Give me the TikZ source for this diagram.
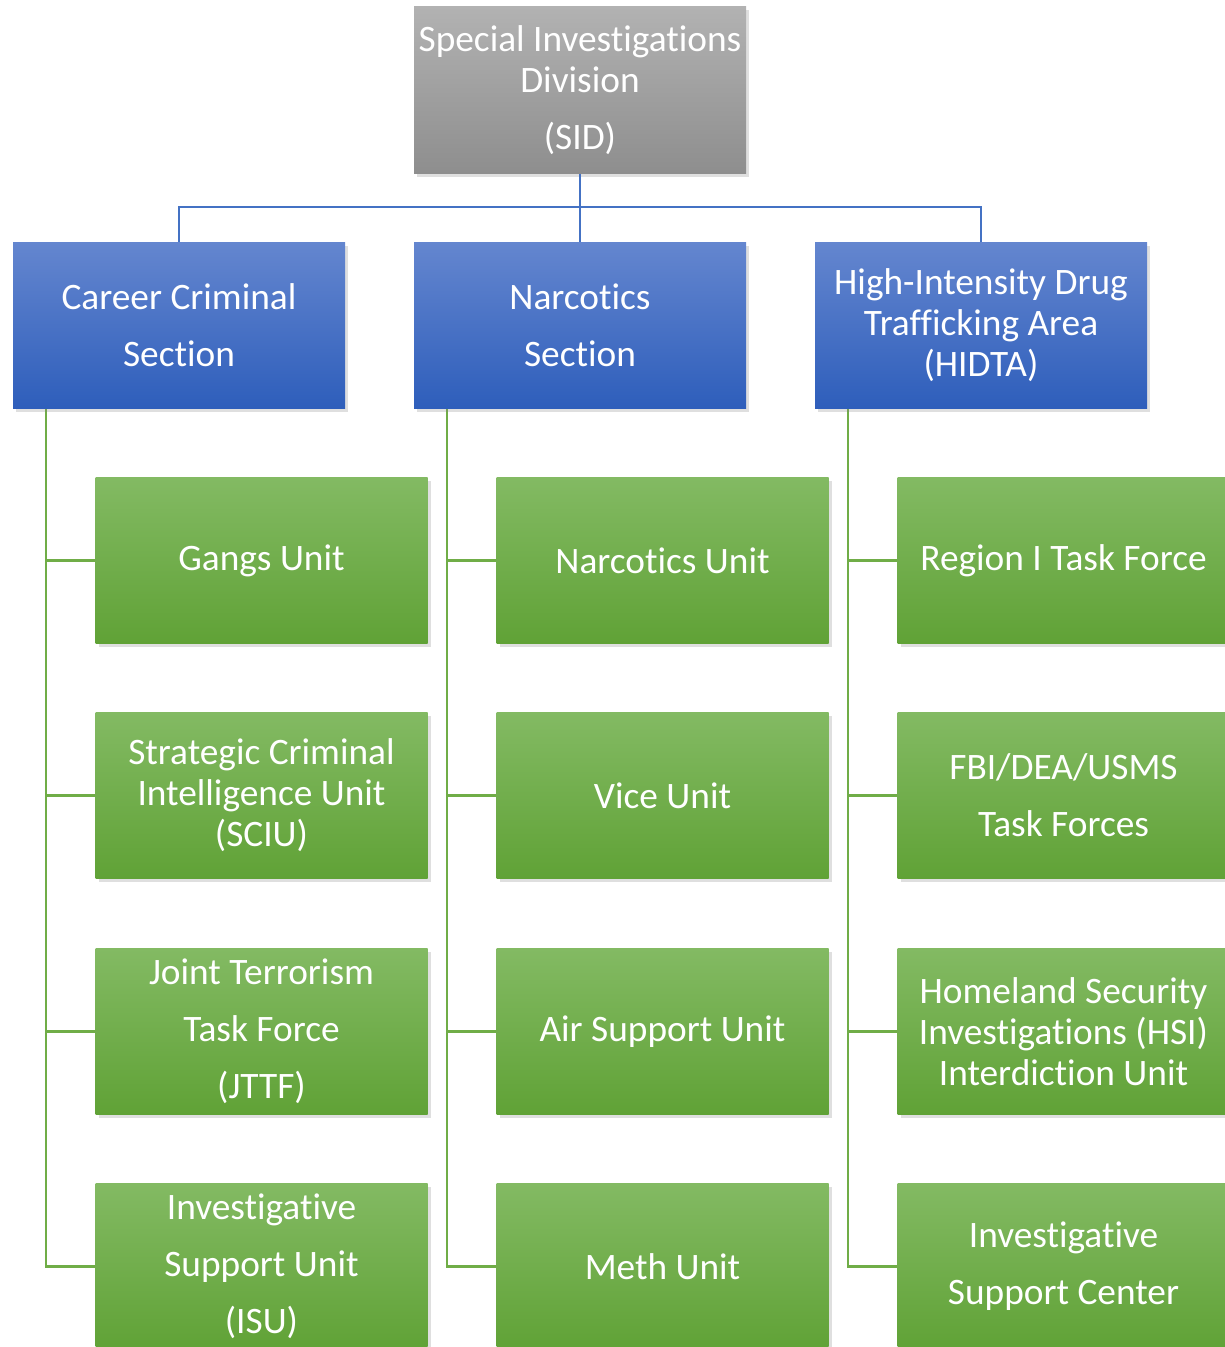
\documentclass[tikz,border=0pt]{standalone}
\usepackage{fontspec}
\setmainfont{Carlito}[Ligatures=NoCommon]
\usepackage{tikz}
\usetikzlibrary{shadows}

\definecolor{graytop}{HTML}{B2B2B2}
\definecolor{graybot}{HTML}{8E8E8E}
\definecolor{bluetop}{HTML}{6486CF}
\definecolor{bluebot}{HTML}{2E5EBB}
\definecolor{greentop}{HTML}{83BA63}
\definecolor{greenbot}{HTML}{60A236}
\definecolor{blueln}{HTML}{4472C4}
\definecolor{greenln}{HTML}{70AD47}

\begin{document}
\begin{tikzpicture}[x=0.75pt,y=-0.75pt,
  box/.style={minimum width=249pt,minimum height=125pt,inner sep=1pt,align=center,text=white,
    font=\fontsize{28}{30.75}\selectfont,
    drop shadow={shadow xshift=2.5pt,shadow yshift=-2.5pt,opacity=0.25}},
  graybox/.style={box,top color=graytop,bottom color=graybot},
  bluebox/.style={box,top color=bluetop,bottom color=bluebot},
  greenbox/.style={box,top color=greentop,bottom color=greenbot},
  bline/.style={draw=blueln,line width=1.8pt},
  gline/.style={draw=greenln,line width=1.8pt}]

\useasboundingbox (0,0) rectangle (1225,1347);
\clip (0,0) rectangle (1225,1347);

% trunks for the green lines
\coordinate (cctrunk) at (46,409);
\coordinate (nstrunk) at (447,409);
\coordinate (hitrunk) at (848,409);

\node [greenbox] (gangs) at (261.5,560.5) {Gangs Unit};
\node [greenbox] (sciu) at (261.5,795.5) {Strategic Criminal\\Intelligence Unit\\(SCIU)};
\node [greenbox] (jttf) at (261.5,1031.5) {Joint Terrorism\\[12pt]Task Force\\[12pt](JTTF)};
\node [greenbox] (isu) at (261.5,1266.5) {Investigative\\[12pt]Support Unit\\[12pt](ISU)};

\node [greenbox] (narcunit) at (662.5,560.5) {Narcotics Unit};
\node [greenbox] (vice) at (662.5,795.5) {Vice Unit};
\node [greenbox] (air) at (662.5,1031.5) {Air Support Unit};
\node [greenbox] (meth) at (662.5,1266.5) {Meth Unit};

\node [greenbox] (region) at (1063.5,560.5) {Region I Task Force};
\node [greenbox] (fbi) at (1063.5,795.5) {FBI/DEA/USMS\\[12pt]Task Forces};
\node [greenbox] (hsi) at (1063.5,1031.5) {Homeland Security\\Investigations (HSI)\\Interdiction Unit};
\node [greenbox] (isc) at (1063.5,1266.5) {Investigative\\[12pt]Support Center};

% Green connectors.
\draw[gline] (cctrunk) |- (isu.west);
\foreach \n in {gangs,sciu,jttf} \draw[gline] (cctrunk |- \n.west) -- (\n.west);
\draw[gline] (nstrunk) |- (meth.west);
\foreach \n in {narcunit,vice,air} \draw[gline] (nstrunk |- \n.west) -- (\n.west);
\draw[gline] (hitrunk) |- (isc.west);
\foreach \n in {region,fbi,hsi} \draw[gline] (hitrunk |- \n.west) -- (\n.west);

\node [graybox] (sid) at (580,90) {Special Investigations\\Division\\[12pt](SID)};
\node [bluebox] (career) at (179,325.5) {Career Criminal\\[12pt]Section};
\node [bluebox] (narcsec) at (580,325.5) {Narcotics\\[12pt]Section};
\node [bluebox] (hidta) at (981,325.5) {High-Intensity Drug\\Trafficking Area\\(HIDTA)};

% Blue connectors.
\draw[bline] (sid.south) -- (narcsec.north);
\draw[bline] (career.north) -- ++(0,-35) -| (hidta.north);
\end{tikzpicture}
\end{document}
